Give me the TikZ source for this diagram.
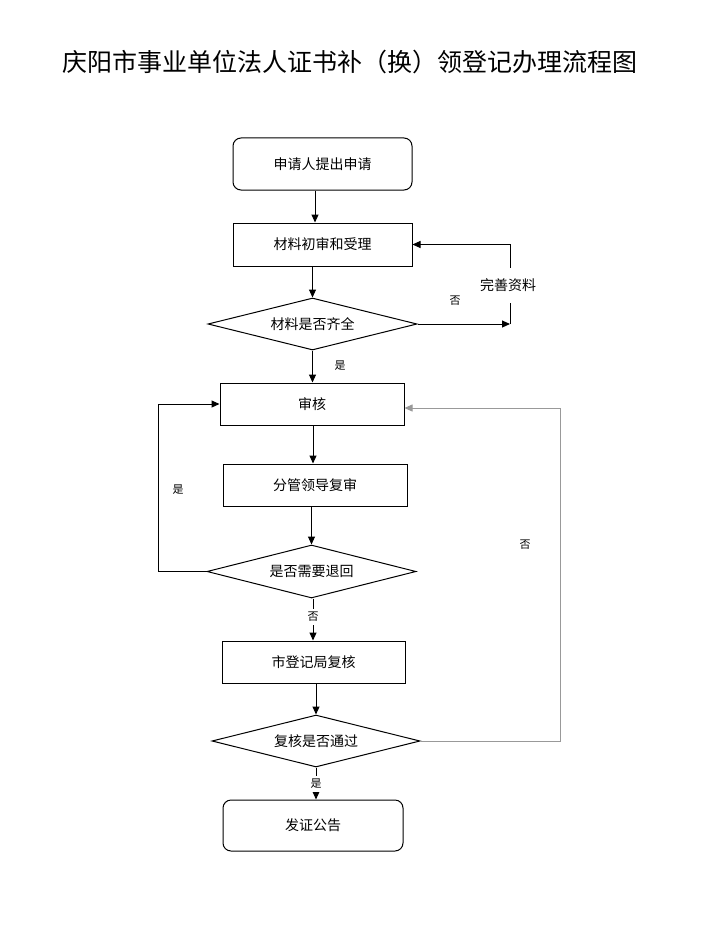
\documentclass[tikz,border=0pt]{standalone}
\usepackage{fontspec}
\newfontfamily\cjk{Noto Sans CJK SC}
\usetikzlibrary{shapes.geometric,arrows.meta,calc}
\tikzset{
  base/.style={font=\cjk\fontsize{14}{16}\selectfont, inner sep=0pt, line width=1pt},
  procbox/.style={base, draw, rectangle},
  roundbox/.style={base, draw, rectangle, rounded corners=8pt},
  decision/.style={base, draw, diamond, aspect=4},
  lab/.style={font=\cjk\fontsize{11}{13}\selectfont, inner sep=1pt},
  arr/.style={line width=1pt, -{Triangle[length=8pt,width=7pt]}},
  ln/.style={line width=1pt},
  grayln/.style={line width=0.8pt, draw=black!40},
}
\begin{document}
\begin{tikzpicture}[x=1pt,y=-1pt]
\useasboundingbox (0,0) rectangle (713,944);
\fill[white] (0,0) rectangle (713,944);

\node[font=\cjk\fontsize{25}{28}\selectfont, inner sep=0pt] (title) at (350,62) {庆阳市事业单位法人证书补（换）领登记办理流程图};

\node[roundbox, minimum width=179pt, minimum height=52pt] (b1) at (322.5,164) {申请人提出申请};
\node[procbox, minimum width=179pt, minimum height=43pt] (b2) at (322.5,244.5) {材料初审和受理};
\node[decision, minimum width=209pt, minimum height=52pt] (d1) at (312.5,324) {材料是否齐全};
\node[procbox, minimum width=184pt, minimum height=42pt] (b3) at (312,404) {审核};
\node[procbox, minimum width=184pt, minimum height=42pt] (b4) at (315,485) {分管领导复审};
\node[decision, minimum width=209pt, minimum height=53pt] (d2) at (311.5,571.5) {是否需要退回};
\node[procbox, minimum width=183pt, minimum height=42pt] (b5) at (313.5,662) {市登记局复核};
\node[decision, minimum width=208pt, minimum height=52pt] (d3) at (316,741) {复核是否通过};
\node[roundbox, minimum width=180pt, minimum height=51pt] (b6) at (313,825.5) {发证公告};

% label that breaks the loop line (placed before drawing so its anchors exist)
\node[base, font=\cjk\fontsize{14}{16}\selectfont, minimum height=34pt] (wsl) at (508,285) {完善资料};

\coordinate (c1) at (d1.east -| 510,0);
\coordinate (cl) at (d2.west -| 158,0);
\coordinate (cr) at (d3.east -| 560,0);

% main flow
\draw[arr] (b1.south -| 315,0) -- (b2.north -| 315,0);
\draw[arr] (b2.south -| d1.north) -- (d1.north);
\draw[arr] (d1.south) -- (d1.south |- b3.north);
\draw[arr] (b3.south -| 313,0) -- (b4.north -| 313,0);
\draw[arr] (b4.south -| d2.north) -- (d2.north);
\draw[arr] (d2.south -| 313,0) -- (b5.north -| 313,0);
\draw[arr] (b5.south -| d3.north) -- (d3.north);
\draw[arr] (d3.south) -- (d3.south |- b6.north);

% redo material loop
\draw[arr] (d1.east) -- (c1);
\draw[ln] (c1) -- (c1 |- wsl.south);
\draw[arr] (c1 |- wsl.north) -- (c1 |- b2.east) -- (b2.east);

% return loop
\draw[arr] (d2.west) -- (cl) -- (cl |- b3.west) -- (b3.west);

% not passed loop
\draw[grayln] (d3.east) -- (cr) -- (cr |- 0,408) coordinate (ct);
\draw[grayln, -{Triangle[length=8pt,width=7pt]}] (ct) -- (b3.east |- ct);

% labels
\node[lab] (no1) at (455,301) {否};
\node[lab] (yes1) at (340,366) {是};
\node[lab] (yes2) at (178,490) {是};
\node[lab] (no3) at (525,545) {否};
\node[lab, fill=white, inner ysep=3pt] (no2) at (313,617) {否};
\node[lab, fill=white, inner ysep=3pt] (yes3) at (316,784) {是};
\end{tikzpicture}
\end{document}
